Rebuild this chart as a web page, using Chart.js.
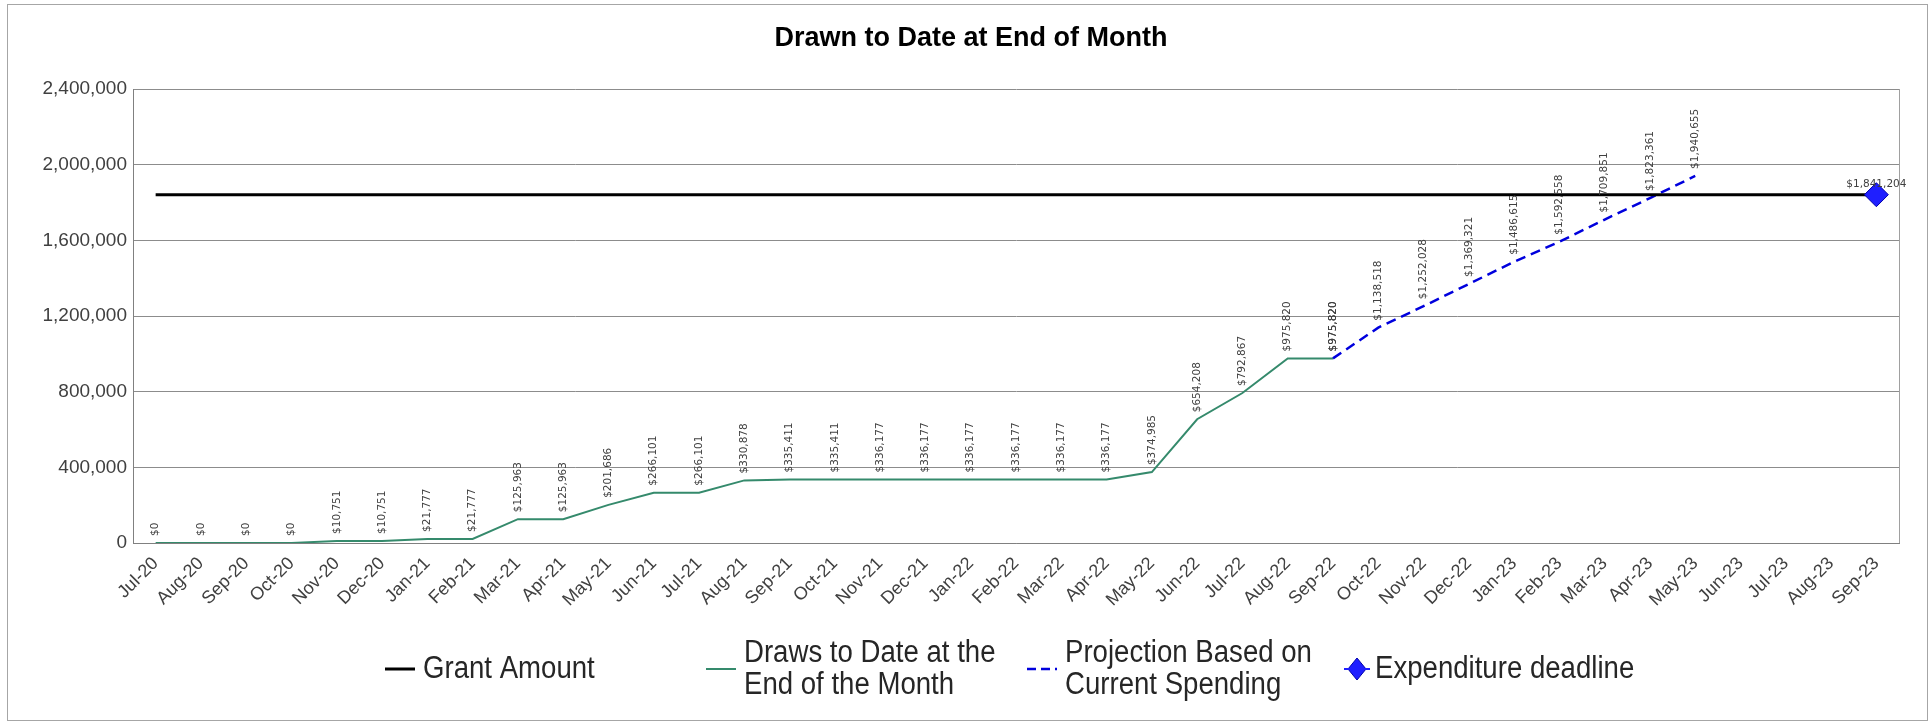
<!DOCTYPE html>
<html>
<head>
<meta charset="utf-8">
<script src="https://cdn.jsdelivr.net/npm/chart.js@4.4.1/dist/chart.umd.min.js"></script>
<style>
  html, body { margin: 0; padding: 0; background: #fff; }
  #c { display: block; }
</style>
</head>
<body>
<canvas id="c" width="1931" height="723"></canvas>
<script>
var months = [
  "Jul-20", "Aug-20", "Sep-20", "Oct-20", "Nov-20", "Dec-20",
  "Jan-21", "Feb-21", "Mar-21", "Apr-21", "May-21", "Jun-21",
  "Jul-21", "Aug-21", "Sep-21", "Oct-21", "Nov-21", "Dec-21",
  "Jan-22", "Feb-22", "Mar-22", "Apr-22", "May-22", "Jun-22",
  "Jul-22", "Aug-22", "Sep-22", "Oct-22", "Nov-22", "Dec-22",
  "Jan-23", "Feb-23", "Mar-23", "Apr-23", "May-23", "Jun-23",
  "Jul-23", "Aug-23", "Sep-23"
];

var grantAmount = 1841204;

var draws = [
  0, 0, 0, 0, 10751, 10751,
  21777, 21777, 125963, 125963, 201686, 266101,
  266101, 330878, 335411, 335411, 336177, 336177,
  336177, 336177, 336177, 336177, 374985, 654208,
  792867, 975820, 975820
];

var projection = [
  null, null, null, null, null, null,
  null, null, null, null, null, null,
  null, null, null, null, null, null,
  null, null, null, null, null, null,
  null, null, 975820, 1138518, 1252028, 1369321,
  1486615, 1592558, 1709851, 1823361, 1940655
];

var deadline = months.map(function (m) { return m === "Sep-23" ? grantAmount : null; });
var grantLine = months.map(function () { return grantAmount; });

var yTicks = [0, 400000, 800000, 1200000, 1600000, 2000000, 2400000];

var legendNames = [
  ["Grant Amount"],
  ["Draws to Date at the", "End of the Month"],
  ["Projection Based on", "Current Spending"],
  ["Expenditure deadline"]
];

// rotated $ labels above points
var pointLabels = {
  id: 'pointLabels',
  afterDatasetsDraw: function (chart) {
    var ctx = chart.ctx;
    ctx.save();
    ctx.font = '10.5px "DejaVu Sans"';
    ctx.fillStyle = '#404040';
    chart.data.datasets.forEach(function (ds, i) {
      if (!ds.labelMode) return;
      var meta = chart.getDatasetMeta(i);
      meta.data.forEach(function (pt, j) {
        var v = ds.data[j];
        if (v == null) return;
        var txt = '$' + v.toLocaleString('en-US');
        if (ds.labelMode === 'vertical') {
          ctx.save();
          ctx.translate(pt.x, pt.y - 7);
          ctx.rotate(-Math.PI / 2);
          ctx.textAlign = 'left';
          ctx.textBaseline = 'middle';
          ctx.fillText(txt, 0, 0);
          ctx.restore();
        } else {
          ctx.textAlign = 'center';
          ctx.textBaseline = 'bottom';
          ctx.fillText(txt, pt.x, pt.y - 5);
        }
      });
    });
    ctx.restore();
  }
};

// title, frame, legend
var decor = {
  id: 'decor',
  afterDraw: function (chart) {
    var ctx = chart.ctx;
    var a = chart.chartArea;
    ctx.save();
    ctx.strokeStyle = '#a6a6a6';
    ctx.lineWidth = 1;
    ctx.strokeRect(7.5, 4.5, 1920, 716);
    ctx.strokeStyle = '#a0a0a0';
    ctx.beginPath();
    ctx.moveTo(Math.round(a.right) + 0.5, a.top);
    ctx.lineTo(Math.round(a.right) + 0.5, a.bottom);
    ctx.stroke();

    ctx.fillStyle = '#000';
    ctx.font = 'bold 27px "Liberation Sans", Arial';
    ctx.textAlign = 'center';
    ctx.textBaseline = 'middle';
    ctx.fillText('Drawn to Date at End of Month', 971, 39);

    var cy = 669;
    var colX = 385, colW = 321;
    ctx.font = '31px "Liberation Sans", Arial';
    ctx.textAlign = 'left';
    ctx.fillStyle = '#262626';
    chart.data.datasets.forEach(function (ds, i) {
      var x = colX + i * colW;
      var tx;
      ctx.save();
      if (ds.pointStyle === 'rectRot') {
        ctx.fillStyle = ds.backgroundColor;
        ctx.strokeStyle = ds.borderColor;
        ctx.beginPath();
        ctx.moveTo(x + 9, cy - 11);
        ctx.lineTo(x + 18, cy);
        ctx.lineTo(x + 9, cy + 11);
        ctx.lineTo(x, cy);
        ctx.closePath();
        ctx.fill();
        ctx.stroke();
        ctx.strokeStyle = ds.backgroundColor;
        ctx.lineWidth = 2;
        ctx.beginPath();
        ctx.moveTo(x - 4, cy); ctx.lineTo(x + 22, cy);
        ctx.stroke();
        tx = x + 27;
      } else {
        ctx.strokeStyle = ds.borderColor;
        ctx.lineWidth = ds.borderWidth;
        if (ds.borderDash) ctx.setLineDash([9, 5]);
        ctx.beginPath();
        ctx.moveTo(x, cy); ctx.lineTo(x + 30, cy);
        ctx.stroke();
        tx = x + 38;
      }
      ctx.restore();
      var lines = legendNames[i];
      ctx.textBaseline = 'middle';
      // condensed look of the legend font
      ctx.save();
      ctx.translate(tx, cy);
      ctx.scale(0.89, 1);
      if (lines.length === 1) {
        ctx.fillText(lines[0], 0, 0);
      } else {
        ctx.fillText(lines[0], 0, -16);
        ctx.fillText(lines[1], 0, 16);
      }
      ctx.restore();
    });
    ctx.restore();
  }
};

new Chart(document.getElementById('c'), {
  type: 'line',
  data: {
    labels: months,
    datasets: [{
      label: 'Grant Amount',
      data: grantLine,
      borderColor: '#000000',
      backgroundColor: '#000000',
      borderWidth: 3,
      pointRadius: 0,
      order: 0
    }, {
      label: 'Draws to Date at the End of the Month',
      data: draws,
      borderColor: '#358a6c',
      backgroundColor: '#358a6c',
      borderWidth: 2,
      pointRadius: 0,
      labelMode: 'vertical',
      order: 2
    }, {
      label: 'Projection Based on Current Spending',
      data: projection,
      borderColor: '#0000dd',
      backgroundColor: '#0000dd',
      borderWidth: 2.5,
      borderDash: [10, 6],
      pointRadius: 0,
      labelMode: 'vertical',
      order: 1
    }, {
      label: 'Expenditure deadline',
      data: deadline,
      showLine: false,
      pointStyle: 'rectRot',
      pointRadius: 12,
      backgroundColor: '#1f1fff',
      borderColor: '#0000aa',
      borderWidth: 1,
      labelMode: 'horizontal',
      order: -1
    }]
  },
  options: {
    responsive: false,
    animation: false,
    devicePixelRatio: 1,
    layout: { padding: { top: 89, right: 32, bottom: 80, left: 0 } },
    plugins: {
      legend: { display: false },
      title: { display: false },
      tooltip: { enabled: false }
    },
    scales: {
      x: {
        type: 'category',
        offset: true,
        grid: { display: false },
        border: { display: true, color: '#808080', width: 1 },
        ticks: {
          autoSkip: false,
          maxRotation: 45,
          minRotation: 45,
          padding: 2,
          color: '#404040',
          font: { family: '"Liberation Sans", Arial', size: 18 }
        },
        afterFit: function (s) { s.height = 100; }
      },
      y: {
        min: 0,
        max: 2400000,
        afterBuildTicks: function (s) {
          s.ticks = yTicks.map(function (v) { return { value: v }; });
        },
        grid: { color: '#8c8c8c', lineWidth: 1, drawTicks: false },
        border: { display: true, color: '#808080', width: 1 },
        ticks: {
          padding: 6,
          color: '#404040',
          font: { family: '"Liberation Sans", Arial', size: 19 },
          callback: function (v) { return v.toLocaleString('en-US'); }
        },
        afterFit: function (s) { s.width = 133; }
      }
    }
  },
  plugins: [pointLabels, decor]
});
</script>
</body>
</html>
